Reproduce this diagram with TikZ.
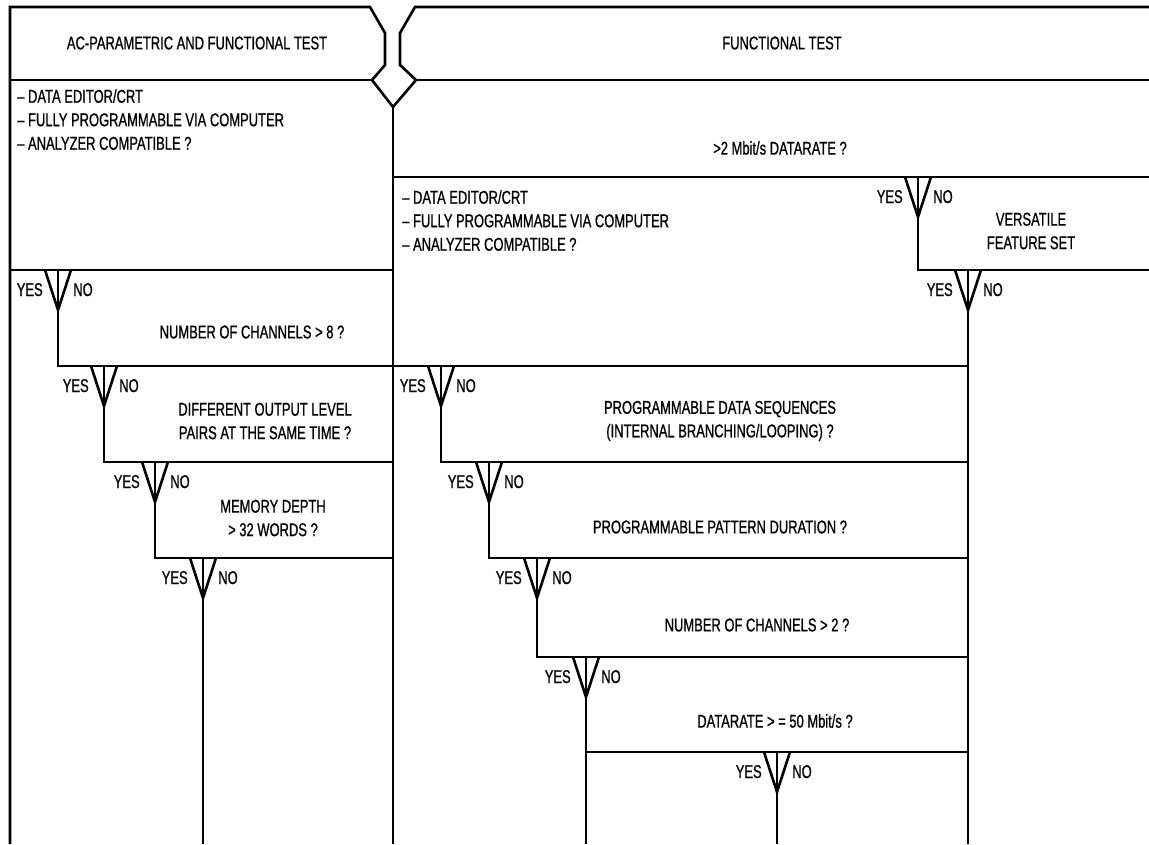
\documentclass[tikz,border=0pt]{standalone}
\usepackage{fontspec}
\setmainfont{Liberation Sans}[FakeStretch=0.7, FakeBold=0.8]

\begin{document}
\begin{tikzpicture}[x=1pt, y=-1pt, line width=2.6pt,
    txt/.style={font=\fontsize{18.5}{23.5}\selectfont, inner sep=0pt, align=center},
    lst/.style={txt, align=left, anchor=north west},
    yes/.style={txt, anchor=base east},
    no/.style={txt, anchor=base west}]
    \useasboundingbox (0,0) rectangle (1149,844);

    % ==== HEADER WITH SPLIT ====
    \draw (10,844) |- (370,7) -- (385,33) -- (385,65) -- (372,80) -- (393,107)
          -- (416,80) -- (400,65) -- (400,33) -- (415,7) -- (1149,7);
    \draw (10,80) -- (372,80);
    \draw (416,80) -- (1149,80);
    \draw (393,107) -- (393,844);

    % ==== YES/NO FORKS ====
    \foreach \ax/\ty/\nm in {58/270/a1, 104/366/a2, 155/462/a3, 203/558/a4,
                             918/177/b0, 968/270/b1, 441/366/b2, 489/462/b3,
                             537/558/b4, 586/657/b5, 777/752/b6}{
        \coordinate (top-\nm) at (\ax,\ty);
        \coordinate (v-\nm) at (\ax,\ty+40);
        \draw (\ax-13,\ty) -- (v-\nm) -- (\ax+13,\ty);
        \draw (top-\nm) -- (v-\nm);
        \node[yes] (yes-\nm) at (\ax-14,\ty+26) {YES};
        \node[no] (no-\nm) at (\ax+14,\ty+26) {NO};
    }

    % ==== BOX LINES ====
    \draw (10,270) -- (393,270);
    \draw (393,177) -- (1149,177);
    \draw (v-b0) |- (1149,270);
    \draw (v-b1) -- (968,844);
    \draw (v-a1) |- (968,366);
    \draw (v-a2) |- (393,462);
    \draw (v-a3) |- (393,558);
    \draw (v-a4) -- (203,844);
    \draw (v-b2) |- (968,462);
    \draw (v-b3) |- (968,558);
    \draw (v-b4) |- (968,657);
    \draw (v-b5) -- (586,844);
    \draw (586,752) -- (968,752);
    \draw (v-b6) -- (777,844);

    % === TEXTS ===
    \node[txt] (acft) at (197,43) {AC-PARAMETRIC AND FUNCTIONAL TEST};
    \node[txt] (ft) at (782,43) {FUNCTIONAL TEST};
    \node[lst] (lista) at (16,88) {-- DATA EDITOR/CRT\\-- FULLY PROGRAMMABLE VIA COMPUTER\\-- ANALYZER COMPATIBLE ?};
    \node[txt] (rate) at (780,148) {>2 Mbit/s DATARATE ?};
    \node[lst] (listb) at (401,189) {-- DATA EDITOR/CRT\\-- FULLY PROGRAMMABLE VIA COMPUTER\\-- ANALYZER COMPATIBLE ?};
    \node[txt] (vfs) at (1031,231) {VERSATILE\\FEATURE SET};
    \node[txt] (ch8) at (252,332) {NUMBER OF CHANNELS > 8 ?};
    \node[txt] (dol) at (265,421) {DIFFERENT OUTPUT LEVEL\\PAIRS AT THE SAME TIME ?};
    \node[txt] (mem) at (273,518) {MEMORY DEPTH\\> 32 WORDS ?};
    \node[txt] (pds) at (720,421) {PROGRAMMABLE DATA SEQUENCES\\(INTERNAL BRANCHING/LOOPING) ?};
    \node[txt] (ppd) at (720,527) {PROGRAMMABLE PATTERN DURATION ?};
    \node[txt] (ch2) at (757,625) {NUMBER OF CHANNELS > 2 ?};
    \node[txt] (dr50) at (775,721) {DATARATE > = 50 Mbit/s ?};

\end{tikzpicture}
\end{document}
